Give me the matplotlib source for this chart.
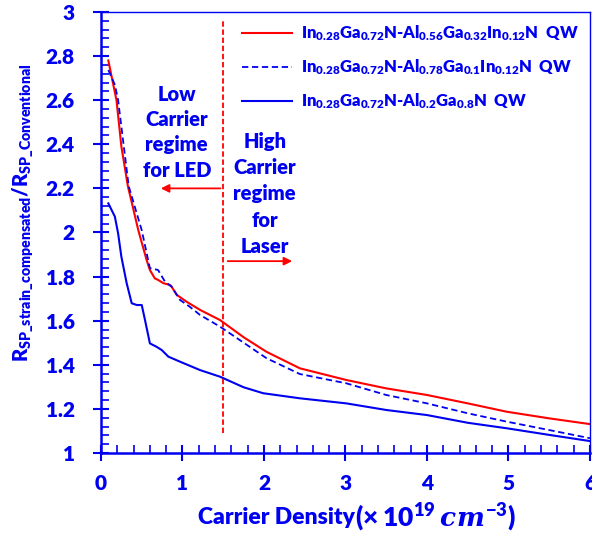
import matplotlib
matplotlib.use("Agg")
import matplotlib.pyplot as plt
from matplotlib.ticker import MultipleLocator

W = 'heavy'
plt.rcParams['font.family'] = ['Lato', 'DejaVu Sans']
plt.rcParams['font.weight'] = W
plt.rcParams['mathtext.fontset'] = 'custom'
plt.rcParams['mathtext.rm'] = 'Lato:heavy'
plt.rcParams['mathtext.bf'] = 'Lato:heavy'
plt.rcParams['mathtext.it'] = 'DejaVu Serif:bold:italic'

BLUE = '#0000F0'
RED = '#FF0000'

# Series data (x in 1e19 cm^-3, y = ratio)
x_red = [0.09, 0.19, 0.25, 0.33, 0.458, 0.56, 0.60, 0.66, 0.70, 0.765, 0.847, 0.867, 0.93, 1.05,
         1.215, 1.46, 1.75, 2.03, 2.44, 3.01, 3.5, 4.0, 4.5, 4.98, 5.5, 6.0]
y_red = [2.78, 2.60, 2.39, 2.21, 2.01, 1.875, 1.83, 1.792, 1.785, 1.77, 1.762, 1.754, 1.717, 1.686,
         1.649, 1.603, 1.525, 1.459, 1.384, 1.331, 1.293, 1.263, 1.225, 1.187, 1.157, 1.131]

x_dash = [0.09, 0.17, 0.21, 0.34, 0.50, 0.60, 0.70, 0.785, 0.867, 0.97, 1.09, 1.215, 1.46,
          2.03, 2.44, 3.01, 3.5, 4.0, 4.5, 4.98, 5.5, 6.0]
y_dash = [2.737, 2.67, 2.60, 2.21, 2.01, 1.838, 1.83, 1.777, 1.754, 1.694, 1.663, 1.626, 1.573,
          1.43, 1.358, 1.316, 1.263, 1.225, 1.18, 1.142, 1.104, 1.067]

x_solid = [0.09, 0.17, 0.21, 0.25, 0.315, 0.377, 0.44, 0.50, 0.54, 0.60, 0.68, 0.745, 0.826, 0.97,
           1.215, 1.46, 1.75, 1.99, 2.44, 3.01, 3.5, 4.0, 4.5, 4.98, 5.5, 6.0]
y_solid = [2.132, 2.072, 1.996, 1.89, 1.77, 1.679, 1.671, 1.671, 1.603, 1.497, 1.482, 1.467, 1.437, 1.414,
           1.376, 1.346, 1.298, 1.271, 1.248, 1.225, 1.195, 1.172, 1.137, 1.112, 1.082, 1.054]

labels = [
    r'In$_{0.28}$Ga$_{0.72}$N-Al$_{0.56}$Ga$_{0.32}$In$_{0.12}$N  QW',
    r'In$_{0.28}$Ga$_{0.72}$N-Al$_{0.78}$Ga$_{0.1}$In$_{0.12}$N  QW',
    r'In$_{0.28}$Ga$_{0.72}$N-Al$_{0.2}$Ga$_{0.8}$N  QW',
]

x_ticks = [0, 1, 2, 3, 4, 5, 6]
y_ticks = [1, 1.2, 1.4, 1.6, 1.8, 2, 2.2, 2.4, 2.6, 2.8, 3]
y_ticklabels = ['1', '1.2', '1.4', '1.6', '1.8', '2', '2.2', '2.4', '2.6', '2.8', '3']

fig = plt.figure(figsize=(5.92, 5.35), dpi=100)
ax = fig.add_axes([0.1706, 0.1533, 0.826, 0.8243])

l1, = ax.plot(x_red, y_red, color=RED, lw=1.5)
l2, = ax.plot(x_dash, y_dash, color=BLUE, lw=1.3, ls=(0, (3.5, 2)))
l3, = ax.plot(x_solid, y_solid, color=BLUE, lw=1.5)

# regime divider and arrows
ax.plot([1.5, 1.5], [1.09, 2.96], color=RED, lw=1.3, ls=(0, (3, 1.5)))
ax.annotate('', xy=(0.70, 2.2), xytext=(1.5, 2.2),
            arrowprops=dict(arrowstyle='-|>', color=RED, lw=1.3, mutation_scale=12))
ax.annotate('', xy=(2.38, 1.87), xytext=(1.52, 1.87),
            arrowprops=dict(arrowstyle='-|>', color=RED, lw=1.3, mutation_scale=12))

ax.text(0.93, 2.455, 'Low\nCarrier\nregime\nfor LED', color=BLUE, fontsize=14.5,
        fontweight=W, ha='center', va='center', linespacing=1.4)
ax.text(2.01, 2.175, 'High\nCarrier\nregime\nfor\nLaser', color=BLUE, fontsize=14.5,
        fontweight=W, ha='center', va='center', linespacing=1.45)

ax.set_xlim(0, 6)
ax.set_ylim(1, 3)
ax.set_xticks(x_ticks)
ax.set_yticks(y_ticks)
ax.set_yticklabels(y_ticklabels)
ax.xaxis.set_minor_locator(MultipleLocator(0.2))
ax.yaxis.set_minor_locator(MultipleLocator(0.04))

ax.tick_params(which='major', direction='inout', length=12, width=1.5, color=BLUE,
               labelcolor=BLUE, labelsize=15, pad=9)
ax.tick_params(which='minor', direction='in', length=6, width=1.2, color=BLUE)
ax.tick_params(axis='y', which='major', pad=13)
for lab in ax.get_xticklabels() + ax.get_yticklabels():
    lab.set_fontweight(W)

for s in ['left', 'bottom']:
    ax.spines[s].set_color(BLUE)
    ax.spines[s].set_linewidth(1.8)
for s in ['top', 'right']:
    ax.spines[s].set_color(BLUE)
    ax.spines[s].set_linewidth(1.0)

# x axis title: plain part + larger math part
ax.text(0.519, -0.147, 'Carrier Density', transform=ax.transAxes, color=BLUE,
        fontsize=16.5, fontweight=W, ha='right', va='center')
ax.text(0.519, -0.147, r'$(\times\,10^{19}\,cm^{-3})$', transform=ax.transAxes, color=BLUE,
        fontsize=19, fontweight=W, ha='left', va='center')

ax.set_ylabel(r'R$_{\mathrm{SP\_strain\_compensated}}$/R$_{\mathrm{SP\_Conventional}}$',
              color=BLUE, fontsize=14.5, fontweight=W)
ax.yaxis.set_label_coords(-0.133, 0.545)

leg = ax.legend([l1, l2, l3], labels, loc='upper right', frameon=False,
                fontsize=12, handlelength=3.0, handletextpad=0.5,
                labelspacing=0.85, borderaxespad=0.3, bbox_to_anchor=(1.0, 1.0))
for t in leg.get_texts():
    t.set_color(BLUE)
    t.set_fontweight(W)

fig.savefig('out.png', dpi=100)
